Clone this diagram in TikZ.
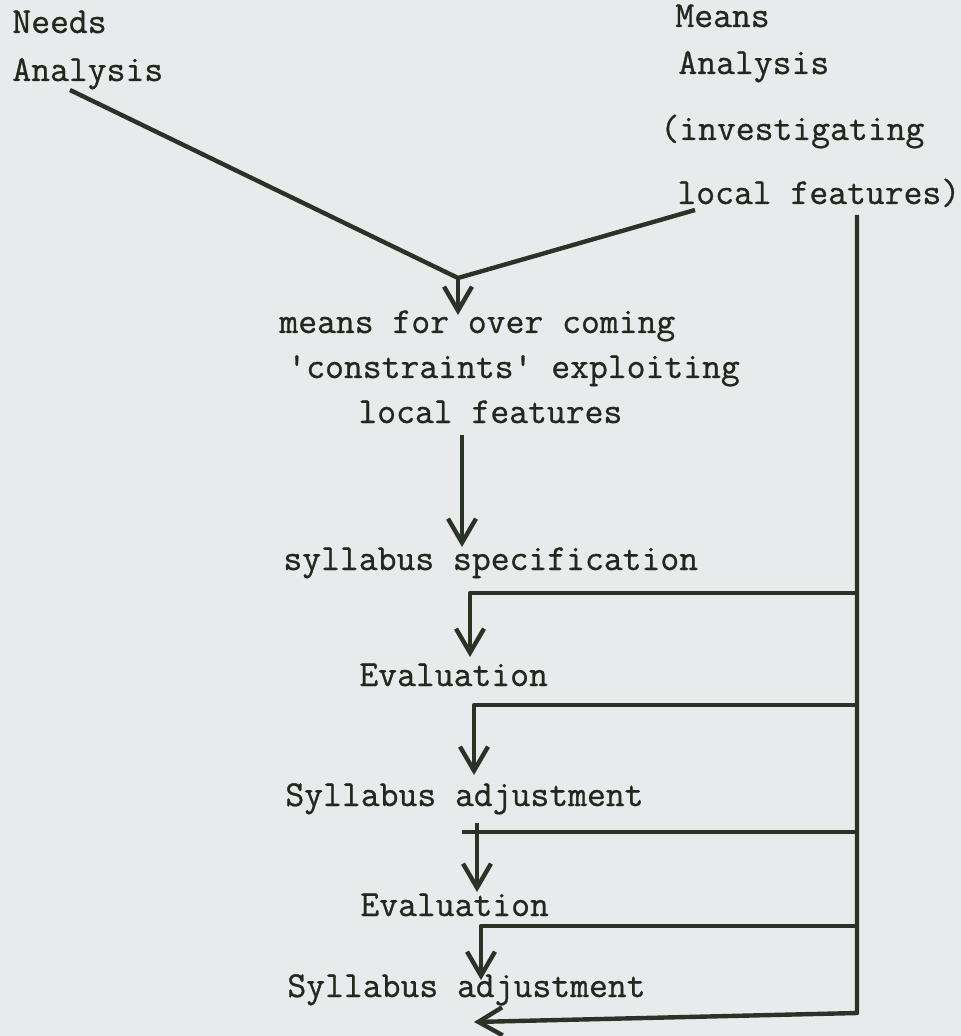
\documentclass[tikz,border=0pt]{standalone}
\usepackage{fontspec}
\newfontfamily\typewriter{Latin Modern Mono}[FakeBold=0.8]
\usetikzlibrary{arrows.meta}
\definecolor{ink}{HTML}{2B3226}
\definecolor{paper}{HTML}{E9EAEC}

\begin{document}
\begin{tikzpicture}[
    x=0.5pt, y=-0.5pt,
    every node/.style={anchor=base west, inner sep=0pt, text=ink!80!black,
        font=\typewriter\fontsize{18.3}{21}\selectfont},
    flow/.style={draw=ink, line width=2.2pt, line join=round},
    arrow/.style={flow, -{Straight Barb[length=12pt, width=14pt]}}
    ]
    \fill[paper] (0,0) rectangle (961,1036);
    \useasboundingbox (0,0) rectangle (961,1036);

    \node (needs1) at (12,33) {Needs};
    \node (needs2) at (12,81) {Analysis};
    \node (means1) at (675,27) {Means};
    \node (means2) at (678,74) {Analysis};
    \node (means3) at (660,140) {(investigating};
    \node (means4) at (677,204) {local features)};

    \node (over1) at (279,333) {means for over coming};
    \node (over2) at (287,378) {'constraints' exploiting};
    \node (over3) at (358,423) {local features};
    \node (spec) at (283,570) {syllabus specification};
    \node (eval1) at (359,686) {Evaluation};
    \node (adjust1) at (285,806) {Syllabus adjustment};
    \node (eval2) at (360,916) {Evaluation};
    \node (adjust2) at (287,997) {Syllabus adjustment};

    \coordinate (needsfoot) at (70,90);
    \coordinate (meansfoot) at (695,210);
    \coordinate (join) at (458,278);
    \coordinate (bustop) at (857,215);
    \coordinate (busfoot) at (857,1013);
    \coordinate (back) at (474,1022);
    \coordinate (tap1) at (857,593);
    \coordinate (tap2) at (857,705);
    \coordinate (tap3) at (857,832);
    \coordinate (tap4) at (857,926);

    \draw[flow] (needsfoot) -- (join) -- (meansfoot);
    \draw[arrow] (join) -- (458,315);
    \draw[arrow] (462,435) -- (462,547);

    % feedback from means analysis
    \draw[arrow] (bustop) -- (busfoot) -- (back);
    \draw[arrow] (tap1) -| (470,657);
    \draw[arrow] (tap2) -| (474,775);
    \draw[flow] (tap3) -- (462,832);
    \draw[arrow] (477,823) -- (477,892);
    \draw[arrow] (tap4) -| (481,980);
\end{tikzpicture}
\end{document}
